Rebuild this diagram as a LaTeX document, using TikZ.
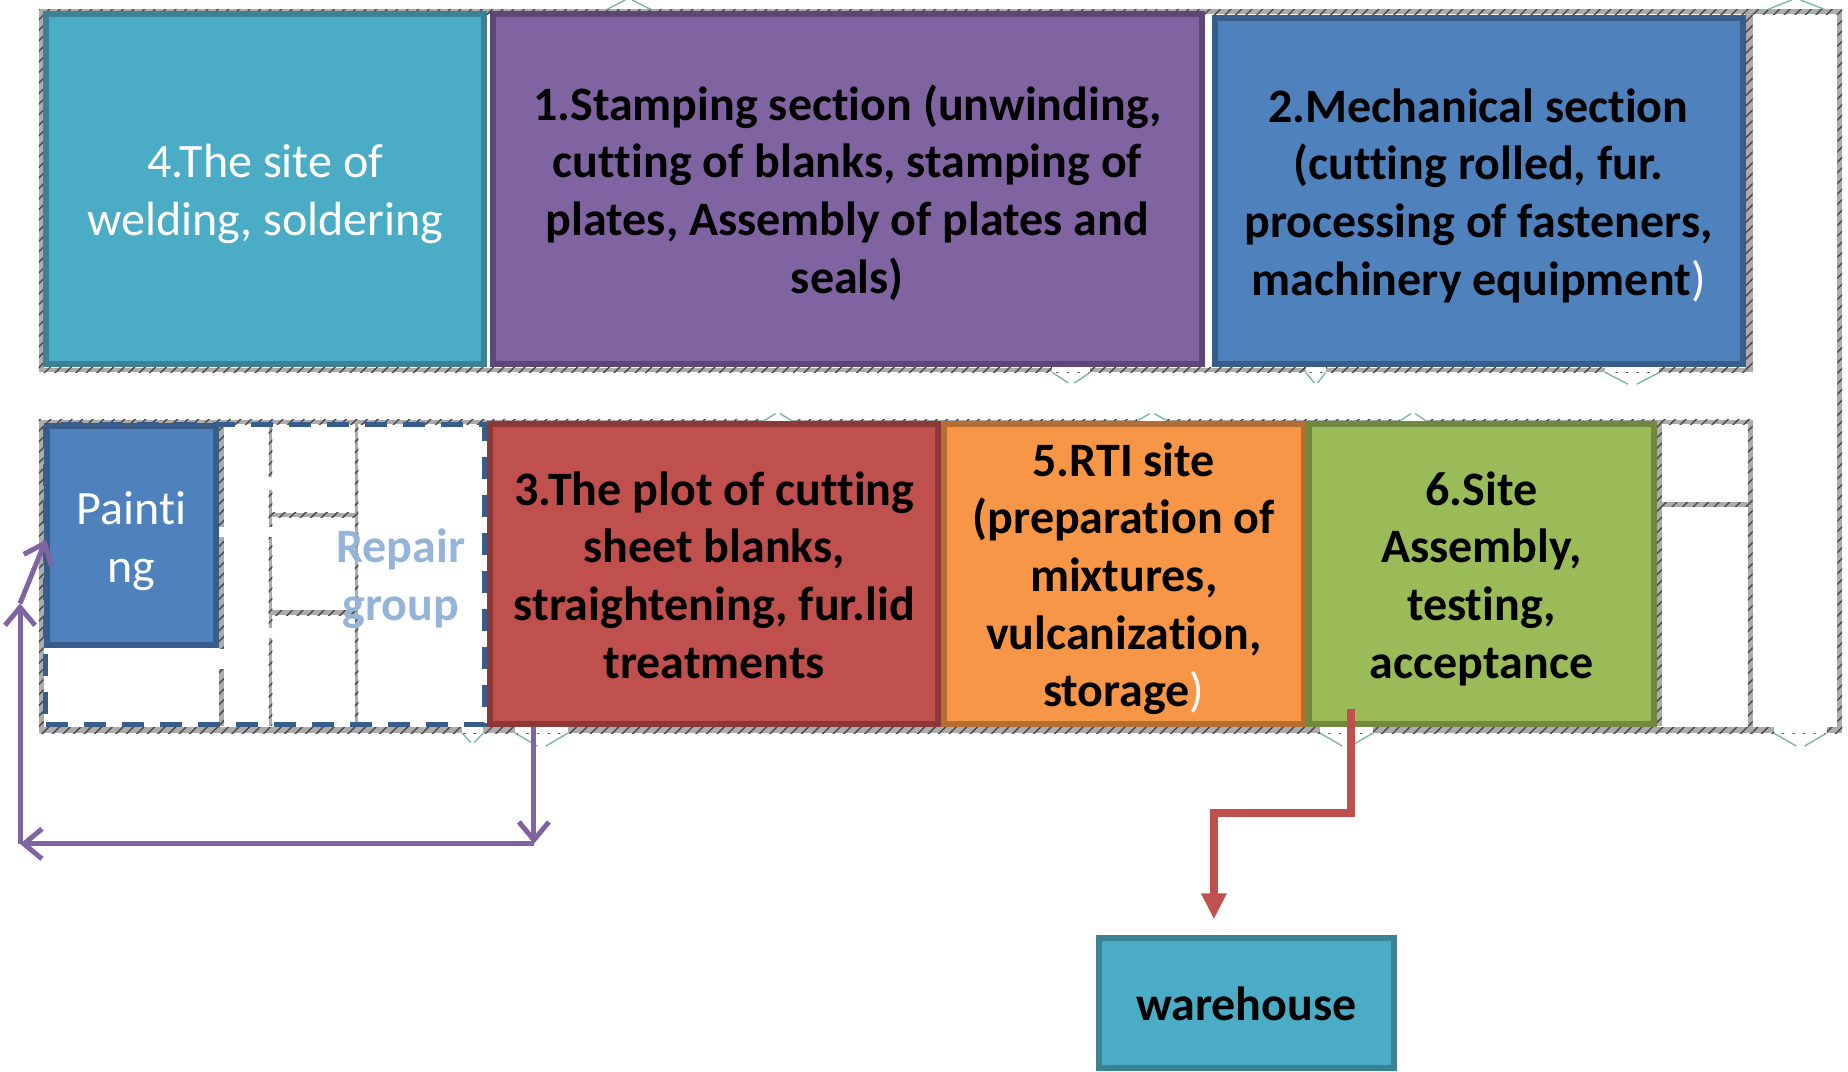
\documentclass[tikz,border=0pt]{standalone}
\usepackage{fontspec}
\setmainfont[Ligatures=NoCommon]{Carlito}
\usetikzlibrary{patterns,arrows.meta}
\definecolor{tealfill}{HTML}{4BACC6}
\definecolor{tealedge}{HTML}{3B8296}
\definecolor{purplefill}{HTML}{8064A2}
\definecolor{purpleedge}{HTML}{5C4776}
\definecolor{bluefill}{HTML}{4F81BD}
\definecolor{blueedge}{HTML}{385D8A}
\definecolor{redfill}{HTML}{C0504D}
\definecolor{rededge}{HTML}{8C3836}
\definecolor{orangefill}{HTML}{F79646}
\definecolor{orangeedge}{HTML}{B66D31}
\definecolor{greenfill}{HTML}{9BBB59}
\definecolor{greenedge}{HTML}{71893F}
\definecolor{wallgray}{HTML}{4A4A4A}
\definecolor{doorline}{HTML}{7FB5A8}
\tikzset{
  size/.style 2 args={minimum width=#1*0.011786cm,minimum height=#2*0.011786cm},
  section/.style={draw=#1edge,fill=#1fill,line width=0.06cm,inner sep=0pt,align=center,
    font=\fontsize{13.65}{16.4}\selectfont\bfseries,
    execute at end node={\rule[-3pt]{0pt}{3pt}}},
  plain/.style={font=\fontsize{13.65}{16.4}\selectfont\mdseries,text=white},
  wall/.style={fill=gray!65,postaction={pattern=north east lines,pattern color=wallgray}},
  flow/.style={draw=purplefill,line width=0.05cm,-{Straight Barb[length=0.18cm,width=0.3cm]}},
  ship/.style={draw=redfill,line width=0.08cm,-{Triangle[length=0.26cm,width=0.24cm]}}
}
\newcommand{\wht}[1]{{\mdseries\color{white}#1}}
\newcommand{\toprl}{\rule{0pt}{13pt}}
\begin{document}
\begin{tikzpicture}[x=0.011786cm,y=-0.011786cm]
  \useasboundingbox (0,0) rectangle (1568,909);
  % walls
  \foreach \xa/\ya/\xb/\yb in {33/8/1563/12,33/8/37/316,33/312/1487/316,1481/8/1487/316,
    33/356/1487/360,33/356/37/622,33/617/1563/622,1483/356/1487/622,1559/8/1563/622,
    186/359/190/616,228/359/231/616,301/359/304/616,228/435/301/439,228/518/301/522,
    1405/358/1410/616,1410/426/1483/430} {
    \path[wall] (\xa,\ya) rectangle (\xb,\yb);
  }
  % doors
  \foreach \xa/\xb/\yy/\dd in {515/552/8/-8,1500/1548/8/-8,893/925/316/9,1108/1125/316/9,
    1362/1408/316/10,648/672/357/-6,965/990/357/-6,1188/1210/357/-6,392/410/622/8,
    437/482/622/11,1120/1165/622/11,1505/1550/622/11} {
    \fill[white] (\xa,\yy-6) rectangle (\xb,\yy);
    \draw[doorline,thin] (\xa,\yy) -- ({\xa+0.42*(\xb-\xa)},\yy+\dd);
    \draw[doorline,thin] (\xb,\yy) -- ({\xa+0.58*(\xb-\xa)},\yy+\dd);
  }
  \foreach \xx/\ya/\yb in {186/447/456,186/551/568,228/405/416,228/447/456,228/533/541} {
    \fill[white] (\xx-1,\ya) rectangle (\xx+5,\yb);
  }
  % repair area
  \node[size={372}{255},draw=blueedge,line width=0.05cm,inner sep=0pt,
    dash pattern=on 0.22cm off 0.16cm] (repair) at (225,487.5) {};
  \node[font=\fontsize{13.65}{16.4}\selectfont\bfseries,text=bluefill!60!white,align=center]
    (repairtxt) at (340,491) {Repair\\group};
  % sections
  \node[section=teal,plain,size={372}{297}] (site4) at (225,160.5) {\toprl 4.The site of\\welding, soldering};
  \node[section=purple,size={602}{297}] (site1) at (719,160.5) {\toprl 1.Stamping section (unwinding,\\cutting of blanks, stamping of\\plates, Assembly of plates and\\seals)};
  \node[section=blue,size={448}{294}] (site2) at (1254.5,162) {\toprl 2.Mechanical section\\(cutting rolled, fur.\\processing of fasteners,\\machinery equipment\wht{)}};
  \node[section=blue,plain,size={144}{186}] (paint) at (111.5,454.5) {\toprl Painti\\ng};
  \node[section=red,size={380}{254}] (site3) at (606,487) {\toprl 3.The plot of cutting\\sheet blanks,\\straightening, fur.lid\\treatments};
  \node[section=orange,size={305}{254}] (site5) at (953.5,487) {\toprl 5.RTI site\\(preparation of\\mixtures,\\vulcanization,\\storage\wht{)}};
  \node[section=green,size={292}{254}] (site6) at (1257,487) {\toprl 6.Site\\Assembly,\\testing,\\acceptance};
  \node[section=teal,size={250}{110},execute at end node={\rule[-2pt]{0pt}{2pt}}] (store) at (1057.5,851) {\toprl warehouse};
  % arrows
  \coordinate (flowa) at (453,716);
  \coordinate (flowb) at (17,716);
  \coordinate (flowc) at (17,512);
  \coordinate (flowd) at (39,458);
  \draw[flow] (site3.south -| flowa) -- (flowa);
  \draw[flow] (flowa) -- (flowb);
  \draw[flow] (flowb) -- (flowc);
  \draw[flow] (flowc) -- (flowd);
  \coordinate (shipa) at (1146,602);
  \coordinate (shipb) at (1146,690);
  \coordinate (shipc) at (1030,690);
  \coordinate (shipd) at (1030,780);
  \draw[ship] (shipa) -- (shipb) -- (shipc) -- (shipd);
\end{tikzpicture}
\end{document}
